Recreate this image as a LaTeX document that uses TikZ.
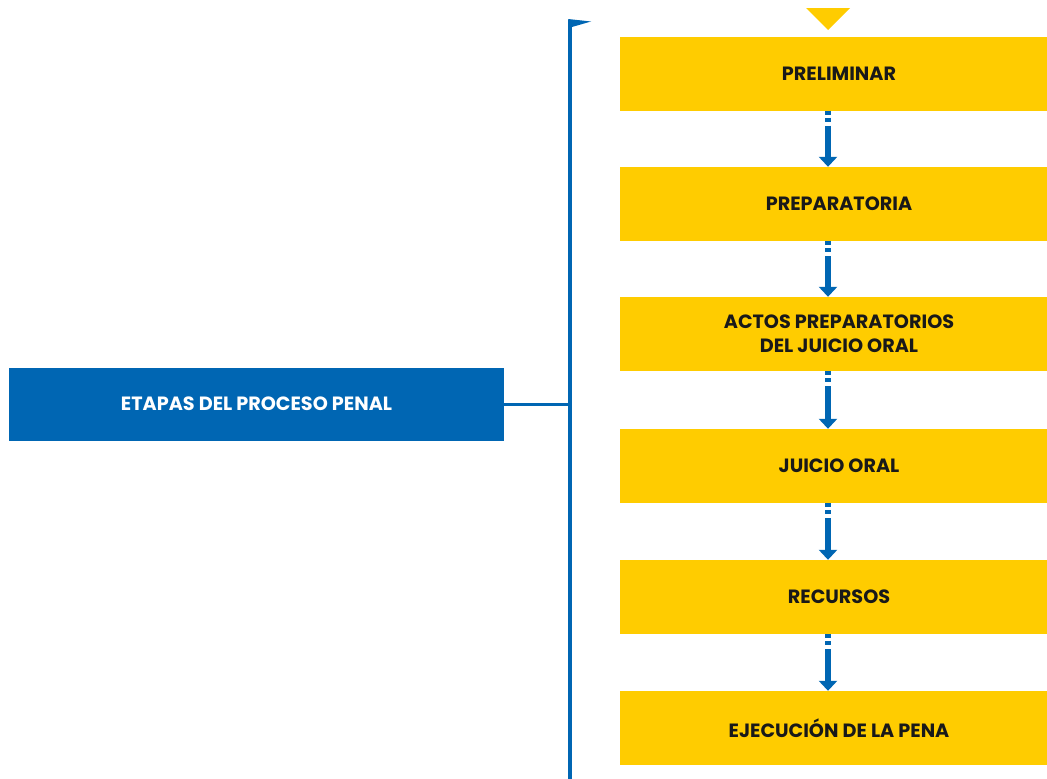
\documentclass[tikz,border=0pt]{standalone}
\usepackage{fontspec}
\setmainfont{Poppins}
\usetikzlibrary{arrows.meta}

\definecolor{azul}{HTML}{0066B3}
\definecolor{amarillo}{HTML}{FFCC00}

\begin{document}
\begin{tikzpicture}[x=1pt,y=-1pt,
    etapa/.style={fill=amarillo, minimum width=438pt, minimum height=74pt,
        inner sep=0pt, align=center, text=black!90,
        font=\bfseries\fontsize{19.2}{24}\selectfont},
    titulo/.style={fill=azul, minimum width=495pt, minimum height=73pt,
        inner sep=0pt, text=white, font=\bfseries\fontsize{19.2}{24}\selectfont},
    punteo/.style={azul, line width=6pt, dash pattern=on 4pt off 3pt},
    flecha/.style={azul, line width=6pt, -{Triangle[width=18pt,length=10pt]}}]
    \useasboundingbox (0,0) rectangle (1047,779);

    % main box on the left
    \node[titulo] (etapas) at (256.5,404) {ETAPAS DEL PROCESO PENAL};

    % bracket with its small flag at the top
    \coordinate (arriba) at (570,20);
    \coordinate (abajo) at (570,779);
    \draw[azul, line width=4pt] (arriba) -- (abajo);
    \fill[azul] (568,19) -- (591,21.5) -- (572,27) -- cycle;
    \draw[azul, line width=3pt] (etapas.east) -- (etapas.east -| arriba);

    % stages
    \foreach \n/\y/\txt in {
        1/73.5/PRELIMINAR,
        2/204/PREPARATORIA,
        3/334/{ACTOS PREPARATORIOS\\DEL JUICIO ORAL},
        4/466/JUICIO ORAL,
        5/597/RECURSOS,
        6/728/EJECUCIÓN DE LA PENA} {
        \node[etapa] (e\n) at (839,\y) {\txt};
    }

    % triangle above the first stage
    \fill[amarillo] (806,8) -- (850,8) -- (828,30) -- cycle;

    % arrows between the stages
    \foreach \a/\b in {1/2,2/3,3/4,4/5,5/6} {
        \draw[punteo] ([xshift=-11pt]e\a.south) -- ++(0,13);
        \draw[flecha] ([xshift=-11pt,yshift=-15pt]e\a.south) -- ([xshift=-11pt]e\b.north);
    }
\end{tikzpicture}
\end{document}
